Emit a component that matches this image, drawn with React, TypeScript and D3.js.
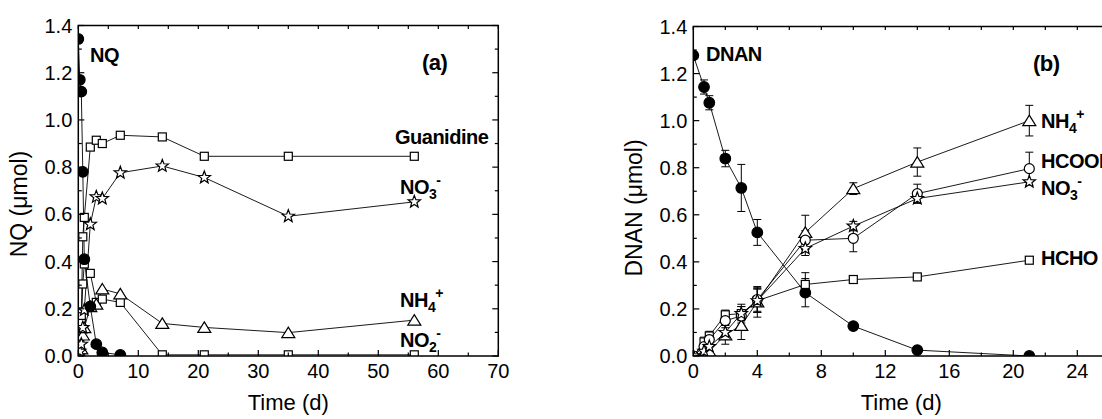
import React from "react";
import * as d3 from "d3";

const FONT = "'Liberation Sans', Arial, Helvetica, sans-serif";

// ---------- Panel (a) data ----------
const timeA = [0, 0.25, 0.5, 0.75, 1, 2, 3, 4, 7, 14, 21, 35, 56];
const nqA = [1.343, 1.17, 1.12, 0.78, 0.41, 0.21, 0.05, 0.015, 0.005, null, null, null, null];
const guanidineA = [0, 0.05, 0.166, 0.505, 0.587, 0.885, 0.914, 0.9, 0.935, 0.928, 0.846, 0.846, 0.846];
const no2A = [0, 0.03, 0.138, 0.305, 0.39, 0.35, 0.227, 0.241, 0.227, 0.005, 0.005, 0.005, 0.005];
const no3A = [0, 0.02, 0.05, 0.12, 0.195, 0.558, 0.674, 0.667, 0.776, 0.805, 0.756, 0.592, 0.653];
const nh4A = [0, 0.01, 0.03, 0.089, 0.12, 0.209, 0.22, 0.284, 0.263, 0.138, 0.121, 0.099, 0.152];

// ---------- Panel (b) data ----------
const timeB = [0, 0.67, 1, 2, 3, 4, 7, 10, 14, 21];
const dnanB = [1.277, 1.143, 1.076, 0.839, 0.714, 0.525, 0.269, 0.127, 0.025, 0.0];
const dnanErr = [0.01, 0.03, 0.03, 0.035, 0.1, 0.055, 0.06, 0.01, 0.01, 0.005];
const nh4B = [0, 0.01, 0.02, 0.09, 0.13, 0.23, 0.525, 0.711, 0.824, 1.0];
const nh4Err = [0.005, 0.01, 0.02, 0.04, 0.06, 0.065, 0.073, 0.025, 0.06, 0.065];
const hcoohB = [0, 0.04, 0.07, 0.15, 0.17, 0.24, 0.492, 0.5, 0.69, 0.796];
const hcoohErr = [0.005, 0.02, 0.02, 0.03, 0.04, 0.05, 0.04, 0.057, 0.04, 0.07];
const no3B = [0, 0.02, 0.04, 0.1, 0.18, 0.235, 0.457, 0.552, 0.669, 0.74];
const no3Err = [0.005, 0.01, 0.02, 0.03, 0.04, 0.05, 0.03, 0.02, 0.02, 0.01];
const hchoB = [0, 0.06, 0.085, 0.175, 0.18, 0.235, 0.304, 0.325, 0.336, 0.407];
const hchoErr = [0.005, 0.02, 0.02, 0.02, 0.03, 0.05, 0.05, 0.01, 0.01, 0.01];

// ---------- Tick labels ----------
const yTicks = [0, 0.2, 0.4, 0.6, 0.8, 1.0, 1.2, 1.4];
const xTicksA = [0, 10, 20, 30, 40, 50, 60, 70];
const xTicksB = [0, 4, 8, 12, 16, 20, 24];

type Shape = "circleFilled" | "circle" | "square" | "triangle" | "star";

interface Series {
  time: number[];
  values: (number | null)[];
  err?: number[];
  shape: Shape;
}

function starPath(R: number) {
  const r = R * 0.42;
  const pts: string[] = [];
  for (let i = 0; i < 10; i++) {
    const a = -Math.PI / 2 + (i * Math.PI) / 5;
    const rr = i % 2 === 0 ? R : r;
    pts.push(`${(rr * Math.cos(a)).toFixed(2)},${(rr * Math.sin(a)).toFixed(2)}`);
  }
  return "M" + pts.join("L") + "Z";
}

function Marker({ shape, x, y }: { shape: Shape; x: number; y: number }) {
  const common = { stroke: "#000", strokeWidth: 1.2 };
  switch (shape) {
    case "circleFilled":
      return <circle cx={x} cy={y} r={5.3} fill="#000" {...common} />;
    case "circle":
      return <circle cx={x} cy={y} r={5} fill="#fff" {...common} />;
    case "square":
      return <rect x={x - 4} y={y - 4} width={8} height={8} fill="#fff" {...common} />;
    case "triangle":
      return (
        <path
          d={`M${x},${y - 5.5}L${x + 6.5},${y + 5}L${x - 6.5},${y + 5}Z`}
          fill="#fff"
          {...common}
        />
      );
    case "star":
      return <path d={starPath(6.5)} transform={`translate(${x},${y})`} fill="#fff" {...common} />;
  }
}

interface LabelPart {
  t: string;
  kind?: "sub" | "sup";
}

function RichLabel({ x, y, parts, size = 20 }: { x: number; y: number; parts: LabelPart[]; size?: number }) {
  let prev: "base" | "sub" | "sup" = "base";
  const offs = { base: 0, sub: 5, sup: -9 };
  return (
    <text x={x} y={y} fontFamily={FONT} fontWeight="bold" fontSize={size} fill="#000" letterSpacing={-0.5}>
      {parts.map((p, i) => {
        const k = p.kind ?? "base";
        const dy = offs[k] - offs[prev];
        prev = k;
        return (
          <tspan key={i} dy={dy} fontSize={k === "base" ? size : size * 0.7}>
            {p.t}
          </tspan>
        );
      })}
    </text>
  );
}

interface PanelProps {
  id: string;
  left: number;
  right: number;
  top: number;
  bottom: number;
  xMax: number;
  xTicks: number[];
  xMinorStep: number;
  series: Series[];
  yTitle: string;
  yTitleX: number;
  yTitleY: number;
}

function Panel(p: PanelProps) {
  const x = d3.scaleLinear().domain([0, p.xMax]).range([p.left, p.right]);
  const y = d3.scaleLinear().domain([0, 1.4]).range([p.bottom, p.top]);
  const line = d3
    .line<[number, number | null]>()
    .defined((d) => d[1] !== null)
    .x((d) => x(d[0]))
    .y((d) => y(d[1] as number));

  const xMinor = d3.range(0, p.xMax + 1e-9, p.xMinorStep);
  const yMinor = d3.range(0, 1.4001, 0.1);
  const isMajorY = (v: number) => Math.abs(v * 5 - Math.round(v * 5)) < 1e-6;
  const isMajorX = (v: number) => p.xTicks.some((t) => Math.abs(t - v) < 1e-6);
  const MAJ = 6;
  const MIN = 3.5;

  return (
    <g>
      <defs>
        <clipPath id={`clip-${p.id}`}>
          <rect x={p.left} y={p.top} width={p.right - p.left} height={p.bottom - p.top} />
        </clipPath>
      </defs>
      <g clipPath={`url(#clip-${p.id})`}>
        {p.series.map((s, si) => (
          <path
            key={`l${si}`}
            d={line(s.time.map((t, i) => [t, s.values[i]] as [number, number | null])) ?? ""}
            fill="none"
            stroke="#000"
            strokeWidth={0.9}
          />
        ))}
        {p.series.map((s, si) =>
          s.err
            ? s.time.map((t, i) => {
                const v = s.values[i];
                const e = s.err![i];
                if (v === null || e < 0.012) return null;
                const cx = x(t);
                const y1 = y(v + e);
                const y2 = y(v - e);
                return (
                  <g key={`e${si}-${i}`} stroke="#000" strokeWidth={1}>
                    <line x1={cx} x2={cx} y1={y1} y2={y2} />
                    <line x1={cx - 4} x2={cx + 4} y1={y1} y2={y1} />
                    <line x1={cx - 4} x2={cx + 4} y1={y2} y2={y2} />
                  </g>
                );
              })
            : null
        )}
        {p.series.map((s, si) =>
          s.time.map((t, i) => {
            const v = s.values[i];
            if (v === null) return null;
            return <Marker key={`m${si}-${i}`} shape={s.shape} x={x(t)} y={y(v)} />;
          })
        )}
      </g>
      {/* frame */}
      <rect
        x={p.left}
        y={p.top}
        width={p.right - p.left}
        height={p.bottom - p.top}
        fill="none"
        stroke="#000"
        strokeWidth={1.5}
      />
      {/* x ticks bottom & top */}
      {xMinor.map((v) => {
        const L = isMajorX(v) ? MAJ : MIN;
        return (
          <g key={`xt${v}`} stroke="#000" strokeWidth={1.2}>
            <line x1={x(v)} x2={x(v)} y1={p.bottom} y2={p.bottom - L} />
            <line x1={x(v)} x2={x(v)} y1={p.top} y2={p.top + MIN} />
          </g>
        );
      })}
      {/* y ticks left & right */}
      {yMinor.map((v) => {
        const L = isMajorY(v) ? MAJ : MIN;
        return (
          <g key={`yt${v.toFixed(2)}`} stroke="#000" strokeWidth={1.2}>
            <line x1={p.left} x2={p.left + L} y1={y(v)} y2={y(v)} />
            <line x1={p.right} x2={p.right - L} y1={y(v)} y2={y(v)} />
          </g>
        );
      })}
      {/* tick labels */}
      {p.xTicks.map((v) => (
        <text
          key={`xl${v}`}
          x={x(v)}
          y={p.bottom + 22}
          textAnchor="middle"
          fontFamily={FONT}
          fontSize={20}
          fill="#000"
        >
          {v}
        </text>
      ))}
      {yTicks.map((v) => (
        <text
          key={`yl${v}`}
          x={p.left - 6}
          y={y(v) + 7}
          textAnchor="end"
          fontFamily={FONT}
          fontSize={20}
          fill="#000"
        >
          {v.toFixed(1)}
        </text>
      ))}
      {/* axis titles */}
      <text
        x={(p.left + p.right) / 2}
        y={410}
        textAnchor="middle"
        fontFamily={FONT}
        fontSize={22}
        fill="#000"
      >
        Time (d)
      </text>
      <text
        transform={`translate(${p.yTitleX},${p.yTitleY}) rotate(-90)`}
        textAnchor="middle"
        fontFamily={FONT}
        fontSize={23}
        fill="#000"
      >
        {p.yTitle}
      </text>
    </g>
  );
}

export default function App() {
  const seriesA: Series[] = [
    { time: timeA, values: guanidineA, shape: "square" },
    { time: timeA, values: no2A, shape: "square" },
    { time: timeA, values: nh4A, shape: "triangle" },
    { time: timeA, values: no3A, shape: "star" },
    { time: timeA, values: nqA, shape: "circleFilled" },
  ];
  const seriesB: Series[] = [
    { time: timeB, values: dnanB, err: dnanErr, shape: "circleFilled" },
    { time: timeB, values: hchoB, err: hchoErr, shape: "square" },
    { time: timeB, values: nh4B, err: nh4Err, shape: "triangle" },
    { time: timeB, values: hcoohB, err: hcoohErr, shape: "circle" },
    { time: timeB, values: no3B, err: no3Err, shape: "star" },
  ];

  return (
    <svg
      width={1102}
      height={419}
      style={{ position: "absolute", left: 0, top: 0, background: "#fff" }}
    >
      <rect x={0} y={0} width={1102} height={419} fill="#fff" />
      <Panel
        id="a"
        left={78.3}
        right={498.3}
        top={25.5}
        bottom={356}
        xMax={70}
        xTicks={xTicksA}
        xMinorStep={5}
        series={seriesA}
        yTitle="NQ (μmol)"
        yTitleX={27}
        yTitleY={204}
      />
      <Panel
        id="b"
        left={693.3}
        right={693.3 + 16 * 26}
        top={26.5}
        bottom={356}
        xMax={26}
        xTicks={xTicksB}
        xMinorStep={2}
        series={seriesB}
        yTitle="DNAN (μmol)"
        yTitleX={642}
        yTitleY={208}
      />
      {/* Panel (a) annotations */}
      <RichLabel x={90} y={62} parts={[{ t: "NQ" }]} />
      <RichLabel x={422} y={70} parts={[{ t: "(a)" }]} size={22} />
      <RichLabel x={395} y={144} parts={[{ t: "Guanidine" }]} />
      <RichLabel x={400} y={194} parts={[{ t: "NO" }, { t: "3", kind: "sub" }, { t: "-", kind: "sup" }]} />
      <RichLabel x={400} y={307} parts={[{ t: "NH" }, { t: "4", kind: "sub" }, { t: "+", kind: "sup" }]} />
      <RichLabel x={400} y={347} parts={[{ t: "NO" }, { t: "2", kind: "sub" }, { t: "-", kind: "sup" }]} />
      {/* Panel (b) annotations */}
      <RichLabel x={706} y={61} parts={[{ t: "DNAN" }]} />
      <RichLabel x={1033} y={71} parts={[{ t: "(b)" }]} size={22} />
      <RichLabel x={1041} y={128} parts={[{ t: "NH" }, { t: "4", kind: "sub" }, { t: "+", kind: "sup" }]} />
      <RichLabel x={1041} y={168} parts={[{ t: "HCOOH" }]} />
      <RichLabel x={1041} y={195} parts={[{ t: "NO" }, { t: "3", kind: "sub" }, { t: "-", kind: "sup" }]} />
      <RichLabel x={1041} y={265} parts={[{ t: "HCHO" }]} />
    </svg>
  );
}
